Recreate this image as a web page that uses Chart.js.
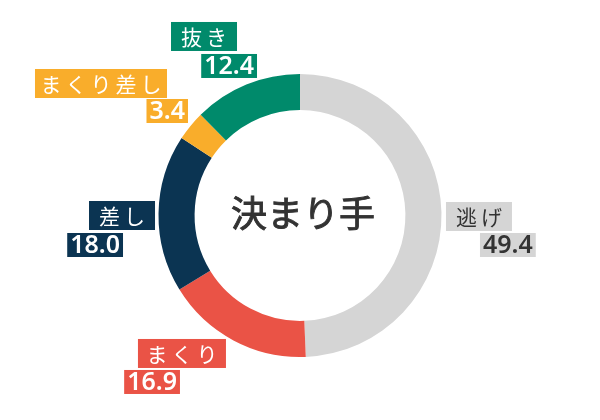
<!DOCTYPE html>
<html>
<head>
<meta charset="utf-8">
<script src="https://cdn.jsdelivr.net/npm/chart.js@4/dist/chart.umd.min.js"></script>
<style>
  html, body { margin: 0; padding: 0; background: #fff; }
  #wrap { width: 600px; height: 420px; }
</style>
</head>
<body>
<div id="wrap"><canvas id="myChart" width="600" height="420"></canvas></div>
<script>
// data
const categories = ['逃げ', 'まくり', '差し', 'まくり差し', '抜き'];
const shares = [49.4, 16.9, 18.0, 3.4, 12.4];
const centerTitle = '決まり手';

const sliceColors = ['#d5d5d5', '#ea5346', '#0b3452', '#f9ad2b', '#008a6b'];
const labelTextColors = ['#333333', '#ffffff', '#ffffff', '#ffffff', '#ffffff'];
// label/value box offsets from the slice's outer mid point: [labelX, labelY, valueX, valueY]
// x is the box's left edge on the right side, right edge on the left side; y is the box top
const labelLayout = [
  [4.5, -10.6, 38.5, 20.4],
  [-7.5, -1.4, -53.5, 29.6],
  [-3.5, -12.5, -35.5, 19.5],
  [-23.5, -56.9, -2.5, -26.9],
  [-9.3, -62.6, 10.7, -30.6]
];

const jpFont = "'Noto Sans CJK JP', 'Noto Sans', sans-serif";
const numFont = "'Noto Sans', 'Noto Sans CJK JP', sans-serif";

// draw text one char at a time so the kana get some extra spacing
function spacedText(ctx, str, cx, cy, gap) {
  const chars = Array.from(str);
  const widths = chars.map(c => ctx.measureText(c).width);
  const total = widths.reduce((s, v) => s + v, 0) + gap * (chars.length - 1);
  let x = cx - total / 2;
  chars.forEach((c, k) => {
    ctx.fillText(c, x, cy);
    x += widths[k] + gap;
  });
}

const boxLabels = {
  id: 'boxLabels',
  afterDatasetsDraw(chart) {
    const ctx = chart.ctx;
    const meta = chart.getDatasetMeta(0);
    ctx.save();
    ctx.textBaseline = 'middle';
    ctx.textAlign = 'left';
    meta.data.forEach((arc, i) => {
      const p = arc.getProps(['x', 'y', 'startAngle', 'endAngle', 'outerRadius'], true);
      const mid = (p.startAngle + p.endAngle) / 2;
      const px = p.x + Math.cos(mid) * p.outerRadius;
      const py = p.y + Math.sin(mid) * p.outerRadius;
      const rightSide = Math.cos(mid) > 0.01;
      const lay = labelLayout[i];

      // category box
      ctx.font = '22px ' + jpFont;
      let w = ctx.measureText(categories[i]).width + 22;
      let h = 29;
      let left = rightSide ? px + lay[0] : px + lay[0] - w;
      let top = py + lay[1];
      ctx.fillStyle = sliceColors[i];
      ctx.fillRect(left, top, w, h);
      ctx.fillStyle = labelTextColors[i];
      ctx.font = '21px ' + jpFont;
      spacedText(ctx, categories[i], left + w / 2, top + h / 2 + 1, 4);

      // value box
      const txt = shares[i].toFixed(1);
      ctx.font = '600 25px ' + numFont;
      w = ctx.measureText(txt).width + 6;
      h = 24;
      left = rightSide ? px + lay[2] : px + lay[2] - w;
      top = py + lay[3];
      ctx.fillStyle = sliceColors[i];
      ctx.fillRect(left, top, w, h);
      ctx.fillStyle = labelTextColors[i];
      ctx.fillText(txt, left + 3, top + h / 2 + 1);
    });

    // title in the hole
    const a = meta.data[0];
    ctx.font = '36px ' + jpFont;
    ctx.textAlign = 'center';
    ctx.fillStyle = '#333333';
    ctx.strokeStyle = '#333333';
    ctx.lineWidth = 0.9;
    ctx.fillText(centerTitle, a.x + 3, a.y - 2);
    ctx.strokeText(centerTitle, a.x + 3, a.y - 2);
    ctx.restore();
  }
};

const ctx = document.getElementById('myChart').getContext('2d');
const myChart = new Chart(ctx, {
  type: 'doughnut',
  data: {
    labels: categories,
    datasets: [{
      data: shares,
      backgroundColor: sliceColors,
      borderWidth: 0,
      hoverOffset: 0
    }]
  },
  options: {
    responsive: false,
    animation: false,
    cutout: '74.5%',
    layout: { padding: { top: 74, bottom: 63, left: 100, right: 100 } },
    plugins: {
      legend: { display: false },
      tooltip: { enabled: false }
    }
  },
  plugins: [boxLabels]
});
</script>
</body>
</html>
